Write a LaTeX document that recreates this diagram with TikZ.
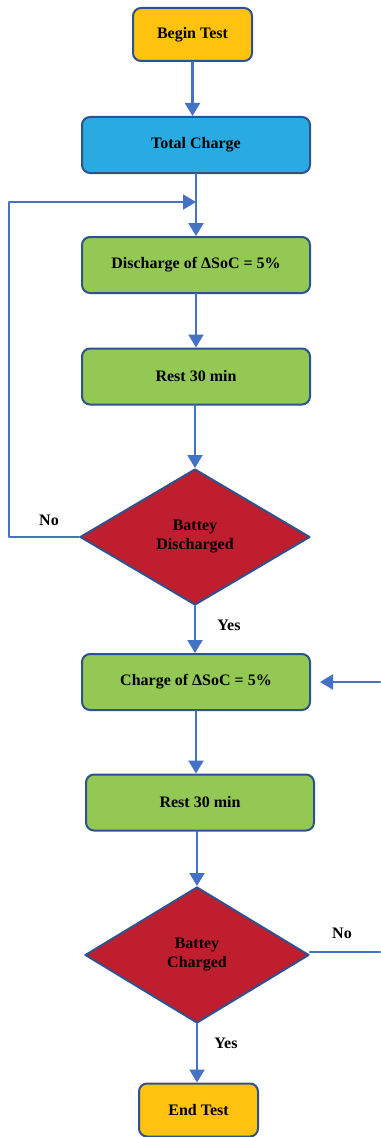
\documentclass[tikz,border=0pt]{standalone}
\usepackage{fontspec}
\setmainfont{Liberation Serif}
\usepackage{xcolor}
\usetikzlibrary{arrows.meta,positioning,shapes.geometric}
\definecolor{startyellow}{HTML}{FFC20E}
\definecolor{chargeblue}{HTML}{29ABE2}
\definecolor{stepgreen}{HTML}{92C853}
\definecolor{checkred}{HTML}{BE1E2D}
\definecolor{edgeblue}{HTML}{2F528F}
\definecolor{arrowblue}{HTML}{4472C4}

\begin{document}
\begin{tikzpicture}[
			x=1pt,
			y=-1pt,
			line cap=round,
			line join=round,
			font=\fontsize{16}{19}\selectfont\bfseries,
			box/.style={rectangle,rounded corners=8pt,draw=edgeblue,line width=2pt,minimum width=228pt,minimum height=56pt,inner sep=0pt},
			endbox/.style={box,fill=startyellow,minimum width=119pt,minimum height=53pt},
			stepbox/.style={box,fill=stepgreen},
			check/.style={diamond,draw=edgeblue,line width=2pt,fill=checkred,inner sep=0pt,align=center},
			conn/.style={draw=arrowblue,line width=2.2pt,-{Stealth[length=13pt,width=15pt,inset=0pt]}},
			lbl/.style={inner sep=0pt}
			]
			\useasboundingbox (0,0) rectangle (380,1137);
			
			%------------------------------
			% discharge part
			%------------------------------
			\node[endbox] (begin) at (192.5,34.5) {Begin Test};
			\node[box,fill=chargeblue] (total) at (196,145) {Total Charge};
			\node[stepbox] (dis) at (196,265) {Discharge of ΔSoC = 5\%};
			\node[stepbox] (rest1) at (196,376.5) {Rest 30 min};
			\node[check,minimum width=230pt,minimum height=136pt] (disok) at (195,537) {Battey\\Discharged};
			
			%------------------------------
			% charge part
			%------------------------------
			\node[stepbox] (chg) at (196,682) {Charge of ΔSoC = 5\%};
			\node[stepbox] (rest2) at (200,802.5) {Rest 30 min};
			\node[check,minimum width=224pt,minimum height=136pt] (chgok) at (197,955) {Battey\\Charged};
			\node[endbox] (end) at (198.5,1110) {End Test};
			
			% loop points
			\coordinate (loopturn) at (9,202);
			\coordinate (loopin) at (total.south |- loopturn);
			\coordinate (chgin) at (380,682);
			\coordinate (noout) at (380,952);
			
			\draw[conn] (begin) -- (begin |- total.north);
			\draw[conn] (total) -- (dis);
			\draw[conn] (dis) -- (rest1);
			\draw[conn] (rest1.south -| disok) -- (disok.north);
			\draw[conn] (disok.south) -- (disok.south |- chg.north);
			\draw[conn] (chg) -- (chg.south |- rest2.north);
			\draw[conn] (rest2.south -| chgok) -- (chgok.north);
			\draw[conn] (chgok.south) -- (chgok.south |- end.north);
			
			\draw[conn] (disok.west) -| (loopturn) -- (loopin);
			\draw[conn] (chgin) -- ([xshift=9pt]chg.east);
			\draw[draw=arrowblue,line width=2.2pt] (chgok.east |- noout) -- (noout);
			
			\node[lbl] (no1) at (49,520) {No};
			\node[lbl] (yes1) at (229,625) {Yes};
			\node[lbl] (no2) at (342,933) {No};
			\node[lbl] (yes2) at (226,1043) {Yes};
		\end{tikzpicture}
\end{document}
